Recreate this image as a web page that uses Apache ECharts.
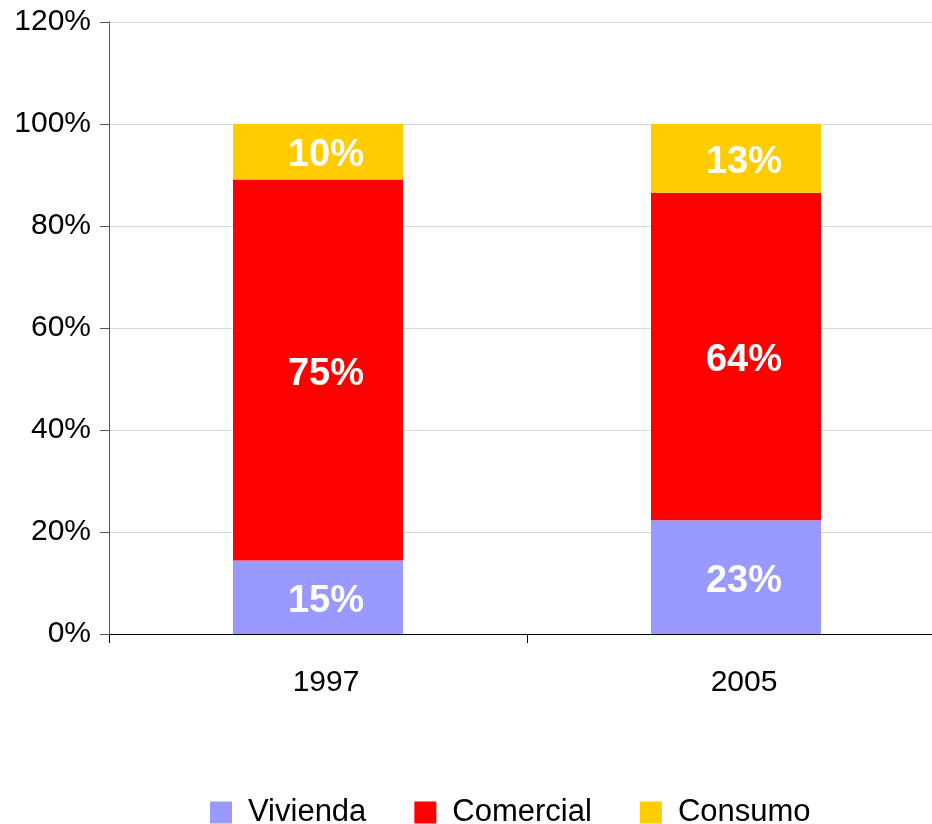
<!DOCTYPE html>
<html>
<head>
<meta charset="utf-8">
<script src="https://cdn.jsdelivr.net/npm/echarts@6/dist/echarts.min.js"></script>
<style>
  html, body { margin: 0; padding: 0; background: #fff; }
  #chart { width: 932px; height: 824px; }
</style>
</head>
<body>
<div id="chart"></div>
<script>
// categorias y valores (en %)
var years = ['1997', '2005'];
var vivienda = [14.4, 22.3];
var comercial = [74.7, 64.2];
var consumo = [10.9, 13.5];
// textos que muestra cada barra
var viviendaLbl = ['15%', '23%'];
var comercialLbl = ['75%', '64%'];
var consumoLbl = ['10%', '13%'];

var font = "'Liberation Sans', Arial, Helvetica, sans-serif";

function barLabel(texts) {
    return {
        show: true,
        position: 'inside',
        offset: [8, 4],
        color: '#fff',
        fontFamily: font,
        fontWeight: 'bold',
        fontSize: 38,
        formatter: function (p) { return texts[p.dataIndex]; }
    };
}

var myChart = echarts.init(document.getElementById('chart'));
var option = {
    backgroundColor: '#fff',
    animation: false,
    color: ['#9999FF', '#FF0000', '#FFCC00'],
    grid: { left: 109, width: 836, top: 22, height: 612, outerBoundsMode: 'none' },
    legend: {
        left: 205,
        top: 792,
        icon: 'rect',
        itemWidth: 22,
        itemHeight: 22,
        itemGap: 48,
        textStyle: { fontFamily: font, fontSize: 31, color: '#000', padding: [0, 0, 0, 11] },
        data: ['Vivienda', 'Comercial', 'Consumo']
    },
    xAxis: {
        type: 'category',
        data: years,
        axisLine: { lineStyle: { color: '#000', width: 1 } },
        axisTick: { show: true, length: 9, lineStyle: { color: '#000' } },
        axisLabel: { fontFamily: font, fontSize: 30, color: '#000', margin: 34, padding: [0, 0, 0, 16] }
    },
    yAxis: {
        type: 'value',
        min: 0,
        max: 120,
        interval: 20,
        axisLine: { show: true, lineStyle: { color: '#555', width: 1 } },
        axisTick: { show: true, length: 9, lineStyle: { color: '#555' } },
        axisLabel: { fontFamily: font, fontSize: 30, color: '#000', margin: 18, formatter: '{value}%' },
        splitLine: { lineStyle: { color: '#d9d9d9', width: 1 } }
    },
    series: [
        { name: 'Vivienda', type: 'bar', stack: 'total', barWidth: 170, data: vivienda, label: barLabel(viviendaLbl) },
        { name: 'Comercial', type: 'bar', stack: 'total', barWidth: 170, data: comercial, label: barLabel(comercialLbl) },
        { name: 'Consumo', type: 'bar', stack: 'total', barWidth: 170, data: consumo, label: barLabel(consumoLbl) }
    ]
};
myChart.setOption(option);
</script>
</body>
</html>
